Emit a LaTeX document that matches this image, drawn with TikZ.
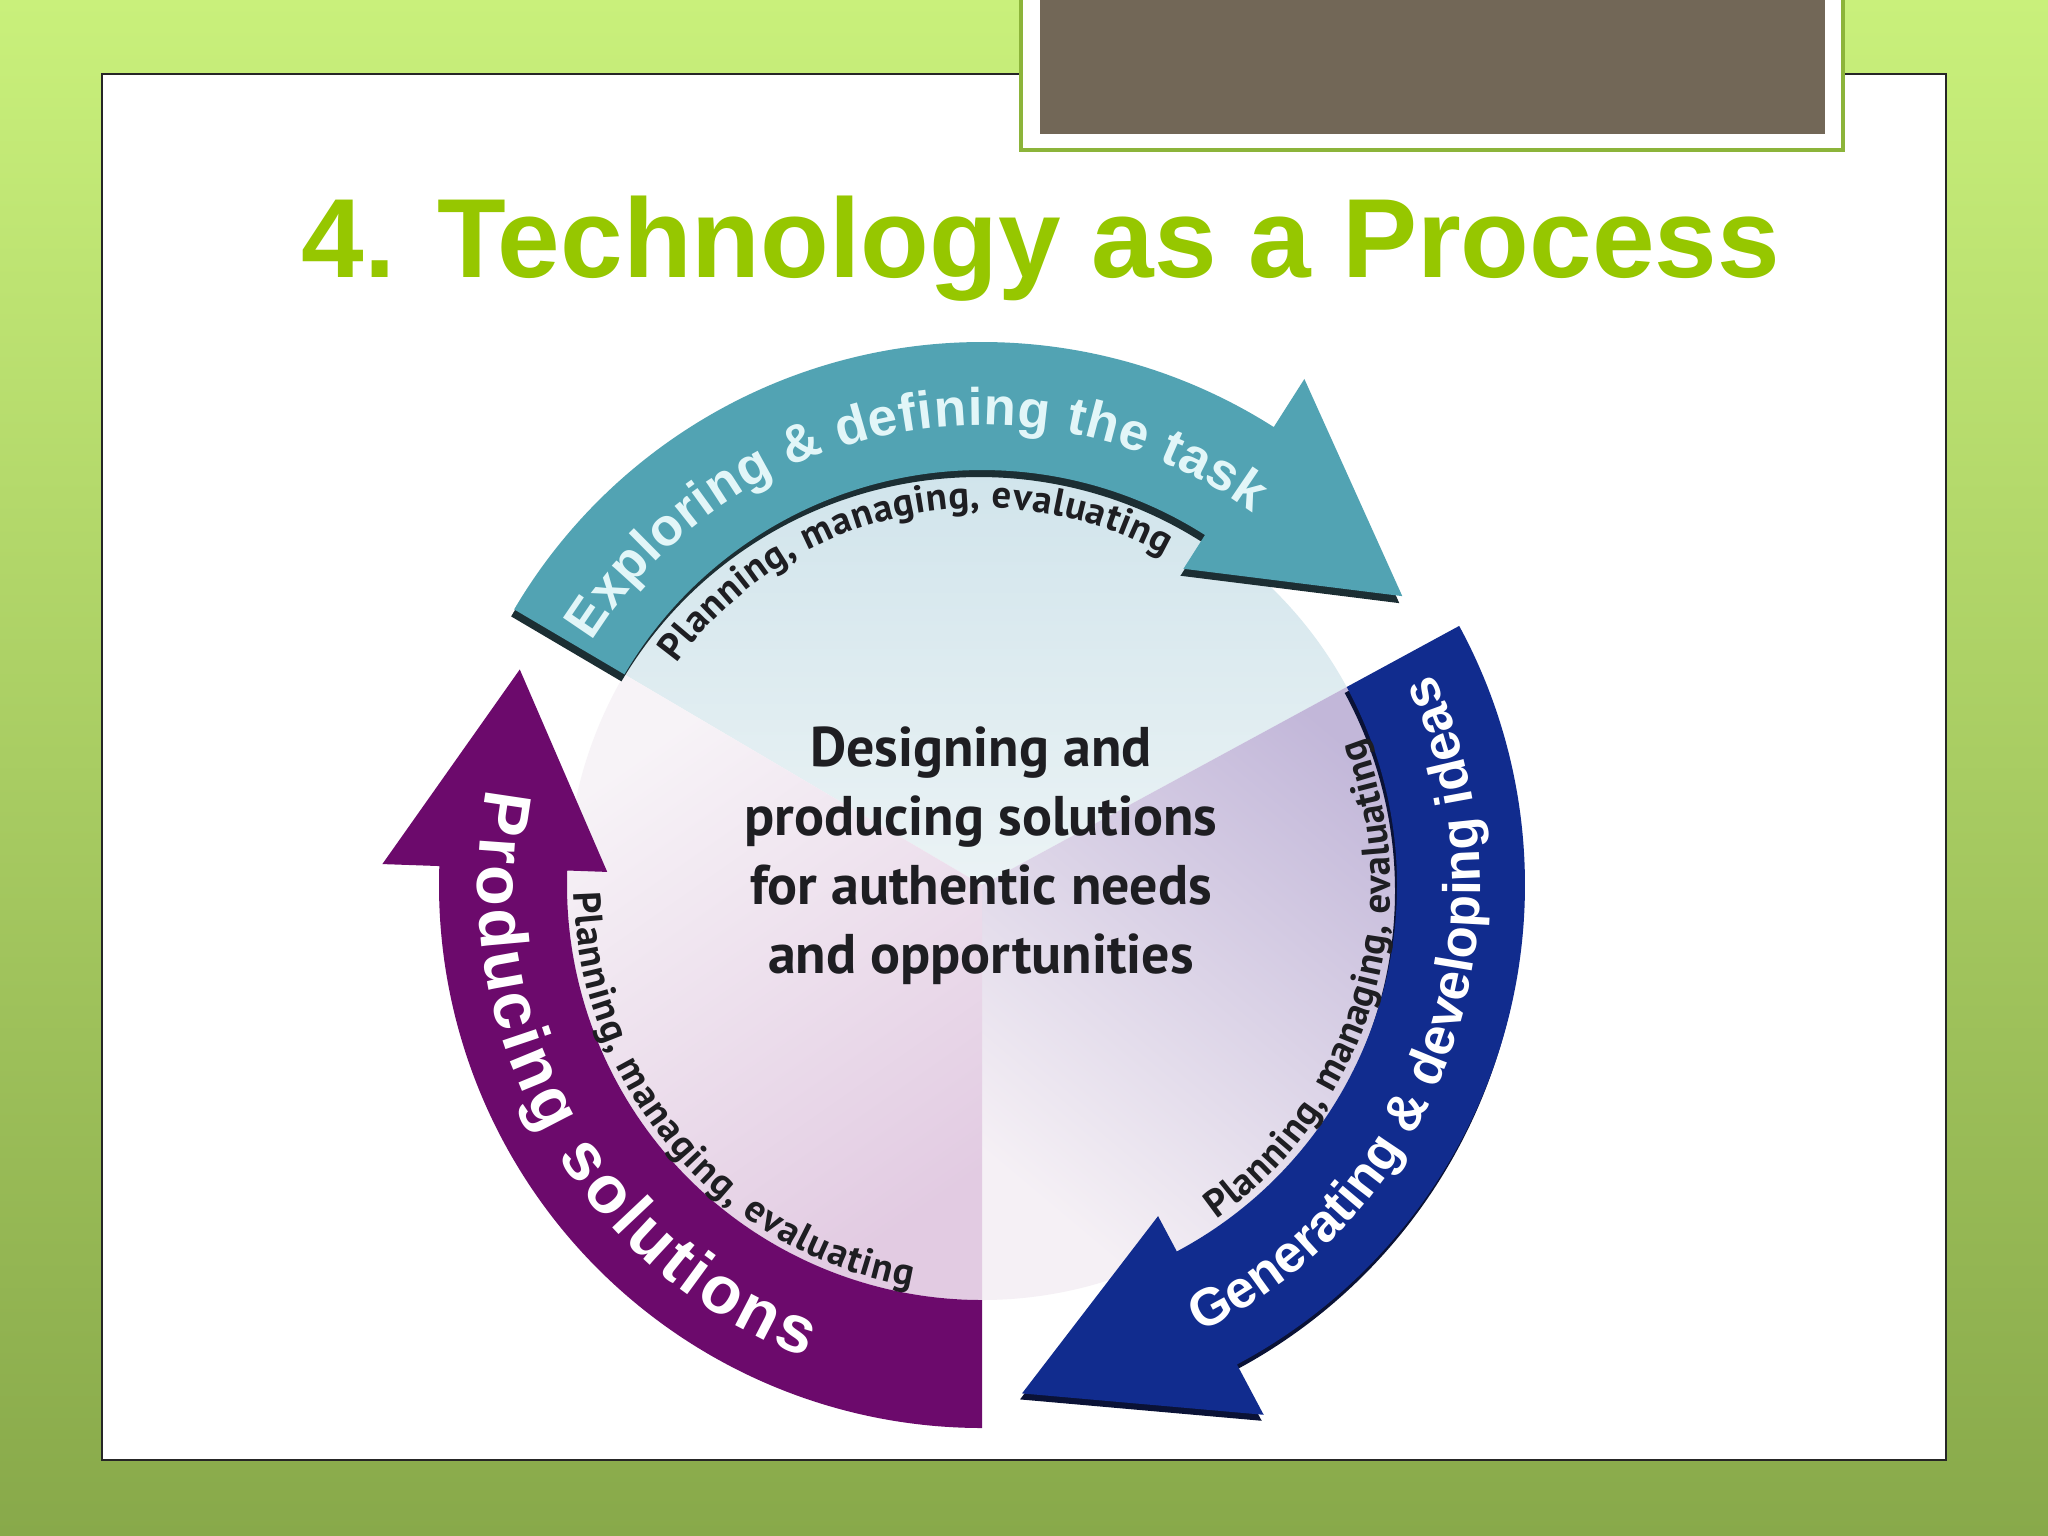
\documentclass[tikz,border=0pt]{standalone}
\usepackage{fontspec}
\setmainfont{Liberation Sans}
\newfontfamily\ptsans{PT Sans}
\usetikzlibrary{decorations.text}
\definecolor{bgtop}{HTML}{C9F07B}
\definecolor{bgbot}{HTML}{88A94A}
\definecolor{titlegreen}{HTML}{96C700}
\definecolor{brownbox}{HTML}{726757}
\definecolor{framegreen}{HTML}{8CB43A}
\definecolor{tealA}{HTML}{52A3B3}
\definecolor{tealText}{HTML}{E2F6F8}
\definecolor{tealShadow}{HTML}{1C2E33}
\definecolor{blueA}{HTML}{112C8E}
\definecolor{blueShadow}{HTML}{0A1236}
\definecolor{purpleA}{HTML}{6C0A6C}
\definecolor{subText}{HTML}{1E1E22}
\definecolor{secTopA}{HTML}{CDE2EA}
\definecolor{secTopB}{HTML}{EBF3F5}
\definecolor{secRightA}{HTML}{C2B7D9}
\definecolor{secRightB}{HTML}{F5F0F5}
\definecolor{secLeftA}{HTML}{F7F3F7}
\definecolor{secLeftB}{HTML}{E2CBE2}
\tikzset{
  maintxt/.style={decorate, decoration={text along path, text align={fit to path}, text color=#1}},
  subtxt/.style={decorate, decoration={text along path, text align={fit to path}, text color=subText}},
}
\begin{document}
\begin{tikzpicture}[x=0.01cm,y=0.01cm]
\useasboundingbox (0,0) rectangle (2048,-1536);
% slide background
\shade[top color=bgtop, bottom color=bgbot] (0,0) rectangle (2048,-1536);
\fill[white, draw=black!85, line width=0.7pt] (102,-74) rectangle (1946,-1460);
% brown placeholder box
\fill[white, draw=framegreen, line width=1pt] (1021,4) rectangle (1843,-150);
\fill[brownbox] (1040,4) rectangle (1825,-134);
% title
\node[anchor=base, text=titlegreen, font=\bfseries\fontsize{32pt}{38pt}\selectfont] (title) at (1041,-277) {4. Technology as a Process};
% diagram
\begin{scope}[shift={(982,-885)}]
  % sectors
  \shade[top color=secTopA, bottom color=secTopB] (0,0) -- (149.5:415) arc[start angle=149.5, end angle=28.5, radius=415] -- cycle;
  \shade[top color=secRightA, bottom color=secRightB, shading angle=-40] (0,0) -- (28.5:415) arc[start angle=28.5, end angle=-90, radius=415] -- cycle;
  \shade[top color=secLeftA, bottom color=secLeftB, shading angle=35] (0,0) -- (270:415) arc[start angle=270, end angle=149.5, radius=415] -- cycle;
  % teal arrow
  \fill[tealShadow, shift={(-3,-7)}] (149.5:543) arc[start angle=149.5, end angle=57.5, radius=543] -- (57.5:600) -- (34.5:510) -- (57.5:375) -- (57.5:415) arc[start angle=57.5, end angle=149.5, radius=415] -- cycle;
  \fill[tealA] (149.5:543) arc[start angle=149.5, end angle=57.5, radius=543] -- (57.5:600) -- (34.5:510) -- (57.5:375) -- (57.5:415) arc[start angle=57.5, end angle=149.5, radius=415] -- cycle;
  % blue arrow
  \fill[blueShadow, shift={(-2,-6)}] (28.5:543) arc[start angle=28.5, end angle=-62, radius=543] -- (-62:600) -- (-85.5:510) -- (-62:375) -- (-62:415) arc[start angle=-62, end angle=28.5, radius=415] -- cycle;
  \fill[blueA] (28.5:543) arc[start angle=28.5, end angle=-62, radius=543] -- (-62:600) -- (-85.5:510) -- (-62:375) -- (-62:415) arc[start angle=-62, end angle=28.5, radius=415] -- cycle;
  % purple arrow
  \fill[purpleA] (270:543) arc[start angle=270, end angle=178, radius=543] -- (178:600) -- (155:510) -- (178:375) -- (178:415) arc[start angle=178, end angle=270, radius=415] -- cycle;
  % main arc texts
  \path[maintxt=tealText, decoration={text={|\bfseries\fontsize{15pt}{18pt}\selectfont|Exploring {\&} defining the task}}] (148:460) arc[start angle=148, end angle=54, radius=460];
  \path[maintxt=white, decoration={text={|\bfseries\fontsize{15pt}{18pt}\selectfont|Generating {\&} developing ideas}}] (-64:498) arc[start angle=-64, end angle=24.5, radius=498];
  \path[maintxt=white, decoration={text={|\bfseries\fontsize{19pt}{22pt}\selectfont|Producing solutions}}] (169:504) arc[start angle=169, end angle=249.5, radius=504];
  % sub arc texts
  \path[subtxt, decoration={text={|\ptsans\bfseries\fontsize{11pt}{13pt}\selectfont|Planning, managing, evaluating}}] (144:377) arc[start angle=144, end angle=61, radius=377];
  \path[subtxt, decoration={text={|\ptsans\bfseries\fontsize{11pt}{13pt}\selectfont|Planning, managing, evaluating}}] (-55:408) arc[start angle=-55, end angle=21, radius=408];
  \path[subtxt, decoration={text={|\ptsans\bfseries\fontsize{11pt}{13pt}\selectfont|Planning, managing, evaluating}}] (181:408) arc[start angle=181, end angle=260, radius=408];
\end{scope}
% centre text
\node[align=center, inner sep=0pt, text=subText, font=\ptsans\bfseries\fontsize{15.9pt}{19.6pt}\selectfont] (core) at (981,-856) {Designing and\\producing solutions\\for authentic needs\\and opportunities};
\end{tikzpicture}
\end{document}
